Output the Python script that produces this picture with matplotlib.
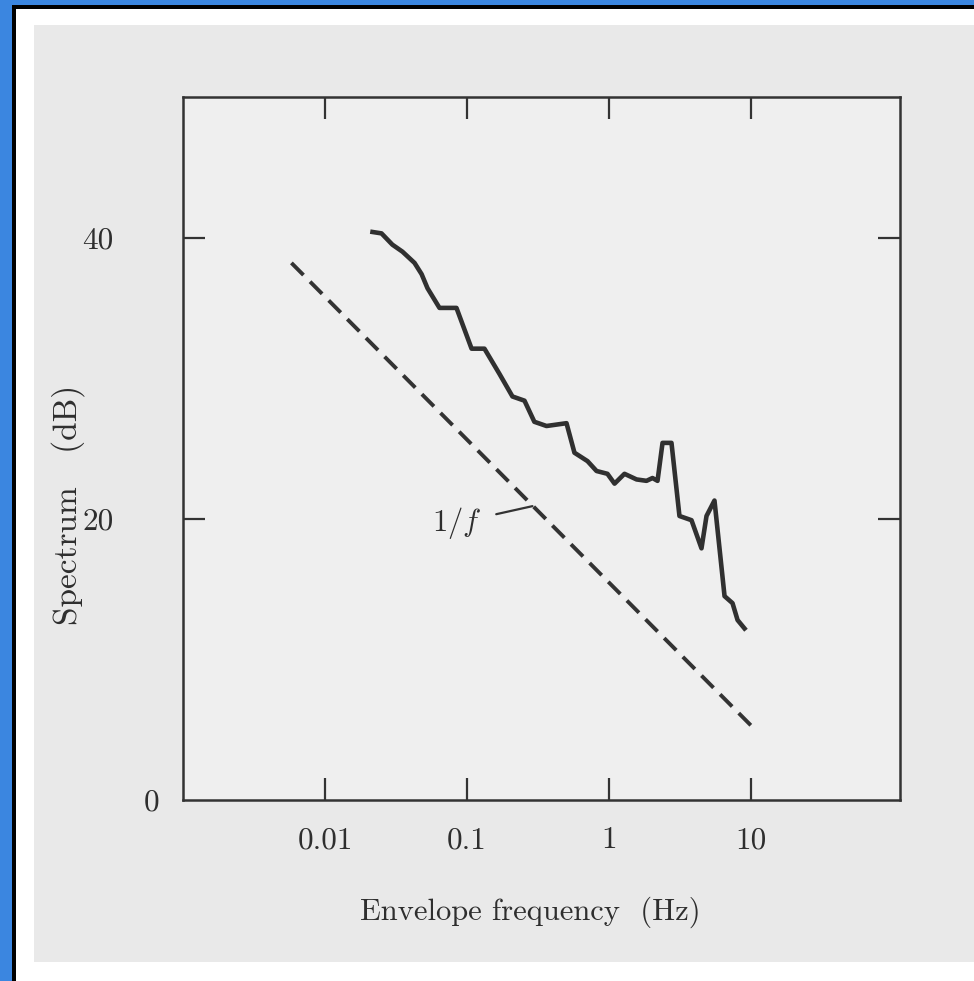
import matplotlib
matplotlib.use('Agg')
import matplotlib.pyplot as plt
from matplotlib.patches import Rectangle

plt.rcParams['font.family'] = 'cmr10'
plt.rcParams['mathtext.fontset'] = 'cm'
plt.rcParams['axes.unicode_minus'] = False

# measured envelope spectrum (Hz, dB)
freq = [0.0216, 0.0250, 0.0298, 0.0351, 0.0427, 0.0479, 0.0527, 0.0640, 0.0843,
        0.1077, 0.1327, 0.1694, 0.2089, 0.254, 0.298, 0.363, 0.502, 0.571, 0.706,
        0.817, 0.975, 1.094, 1.285, 1.563, 1.837, 2.024, 2.196, 2.382, 2.754,
        3.134, 3.81, 4.48, 4.86, 5.53, 6.51, 7.41, 8.04, 9.00]
spectrum = [40.4, 40.3, 39.5, 39.0, 38.2, 37.4, 36.4, 35.0, 35.0,
            32.1, 32.1, 30.3, 28.7, 28.4, 26.9, 26.6, 26.8, 24.7, 24.1,
            23.4, 23.2, 22.5, 23.2, 22.8, 22.7, 22.9, 22.7, 25.4, 25.4,
            20.2, 19.9, 17.9, 20.2, 21.3, 14.5, 14.0, 12.8, 12.2]

# 1/f reference slope
ref_freq = [0.0058, 10.0]
ref_db = [38.2, 5.3]

xticks = [0.01, 0.1, 1, 10]
xticklabels = ['0.01', '0.1', '1', '10']
yticks = [0, 20, 40]
yticklabels = ['0', '20', '40']

W, H = 974, 981
fig = plt.figure(figsize=(W / 100, H / 100), dpi=100)
fig.patch.set_facecolor('#3b86e0')


def px_rect(x0, y0, x1, y1, color):
    # rectangle in pixel units measured from the top-left corner
    fig.patches.append(Rectangle((x0 / W, 1 - y1 / H), (x1 - x0) / W, (y1 - y0) / H,
                                 transform=fig.transFigure, facecolor=color,
                                 edgecolor='none', zorder=-10))


px_rect(12, 5, W, H, 'black')
px_rect(16, 9, W, H, 'white')
px_rect(34, 25, W, 962, '#e9e9e9')

ax = fig.add_axes([183 / W, 1 - 800 / H, (900 - 183) / W, (800 - 97) / H])
ax.set_facecolor('#efefef')

ax.plot(freq, spectrum, color='#303030', lw=3.3, solid_joinstyle='round')
ax.plot(ref_freq, ref_db, color='#333333', lw=2.8, dashes=(4.4, 2.4))

ax.annotate('$1/f$', xy=(0.289, 20.9), xytext=(0.126, 19.7), ha='right', va='center',
            fontsize=22, color='#2e2e2e',
            arrowprops=dict(arrowstyle='-', color='#333333', lw=1.6, shrinkA=9, shrinkB=0))

ax.set_xscale('log')
ax.set_xlim(0.001, 112)
ax.set_ylim(0, 50)
ax.set_xticks(xticks)
ax.set_xticklabels(xticklabels)
ax.minorticks_off()
ax.set_yticks(yticks)
ax.set_yticklabels(yticklabels)

for s in ax.spines.values():
    s.set_linewidth(1.8)
    s.set_color('#333333')

ax.tick_params(axis='both', which='both', direction='in', length=16, width=1.6,
               color='#333333', labelcolor='#2e2e2e', labelsize=22.5,
               top=True, right=True)
ax.tick_params(axis='x', pad=19)
ax.tick_params(axis='y', pad=50)

# the zero tick sits on the bottom spine: keep only its label
zero_tick = ax.yaxis.get_major_ticks()[0]
zero_tick.set_pad(17)
zero_tick.tick1line.set_visible(False)
zero_tick.tick2line.set_visible(False)

ax.set_xlabel('Envelope frequency  (Hz)', fontsize=22, color='#2e2e2e')
ax.xaxis.set_label_coords(0.485, -0.137)
ax.set_ylabel('Spectrum   (dB)', fontsize=24, color='#2e2e2e')
ax.yaxis.set_label_coords(-0.137, 0.42)

fig.savefig('out.png', dpi=100, facecolor=fig.get_facecolor())
